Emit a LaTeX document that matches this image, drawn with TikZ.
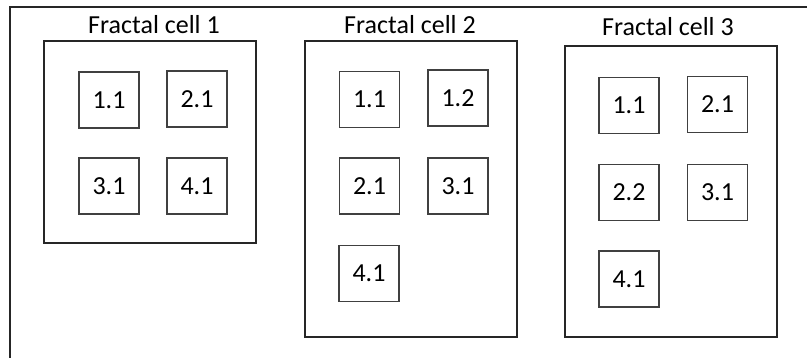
\documentclass[tikz,border=0pt]{standalone}
\usepackage{fontspec}
\setmainfont{Carlito}
\begin{document}
\begin{tikzpicture}[x=1pt,y=-1pt,
  cellbox/.style={draw=black!85, line width=1.5pt, minimum width=212pt, inner sep=0pt},
  subbox/.style={draw=black!75, line width=1.2pt, minimum width=60pt, minimum height=56pt, inner sep=0pt, font=\fontsize{26}{30}\selectfont},
  title/.style={anchor=base, inner sep=0pt, font=\fontsize{26}{30}\selectfont}]
\useasboundingbox (0,0) rectangle (807,357);
\coordinate (fb) at (10,360);
\coordinate (fc) at (10,7);
\coordinate (fr) at (810,7);
\draw[line width=2pt, black!85] (fb) -- (fc) -- (fr);
% cell 1
\node[cellbox, minimum height=202pt] (c1) at (150,142) {};
\node[title] (t1) at (154,33) {Fractal cell 1};
\node[subbox] (a11) at (109,100) {1.1};
\node[subbox] (a21) at (197,99) {2.1};
\node[subbox] (a31) at (109,186) {3.1};
\node[subbox] (a41) at (197,186) {4.1};
% cell 2
\node[cellbox, minimum height=296pt] (c2) at (411,189) {};
\node[title] (t2) at (410,33) {Fractal cell 2};
\node[subbox] (b11) at (369.5,99.5) {1.1};
\node[subbox] (b12) at (458,98) {1.2};
\node[subbox] (b21) at (369.5,186) {2.1};
\node[subbox] (b31) at (458,186) {3.1};
\node[subbox] (b41) at (369,273.5) {4.1};
% cell 3
\node[cellbox, minimum height=291pt] (c3) at (671,191.5) {};
\node[title] (t3) at (668,35) {Fractal cell 3};
\node[subbox] (d11) at (629,105.5) {1.1};
\node[subbox] (d21) at (717.5,104.5) {2.1};
\node[subbox] (d22) at (629,192.5) {2.2};
\node[subbox] (d31) at (717.5,192.5) {3.1};
\node[subbox] (d41) at (629,279) {4.1};
\end{tikzpicture}
\end{document}
